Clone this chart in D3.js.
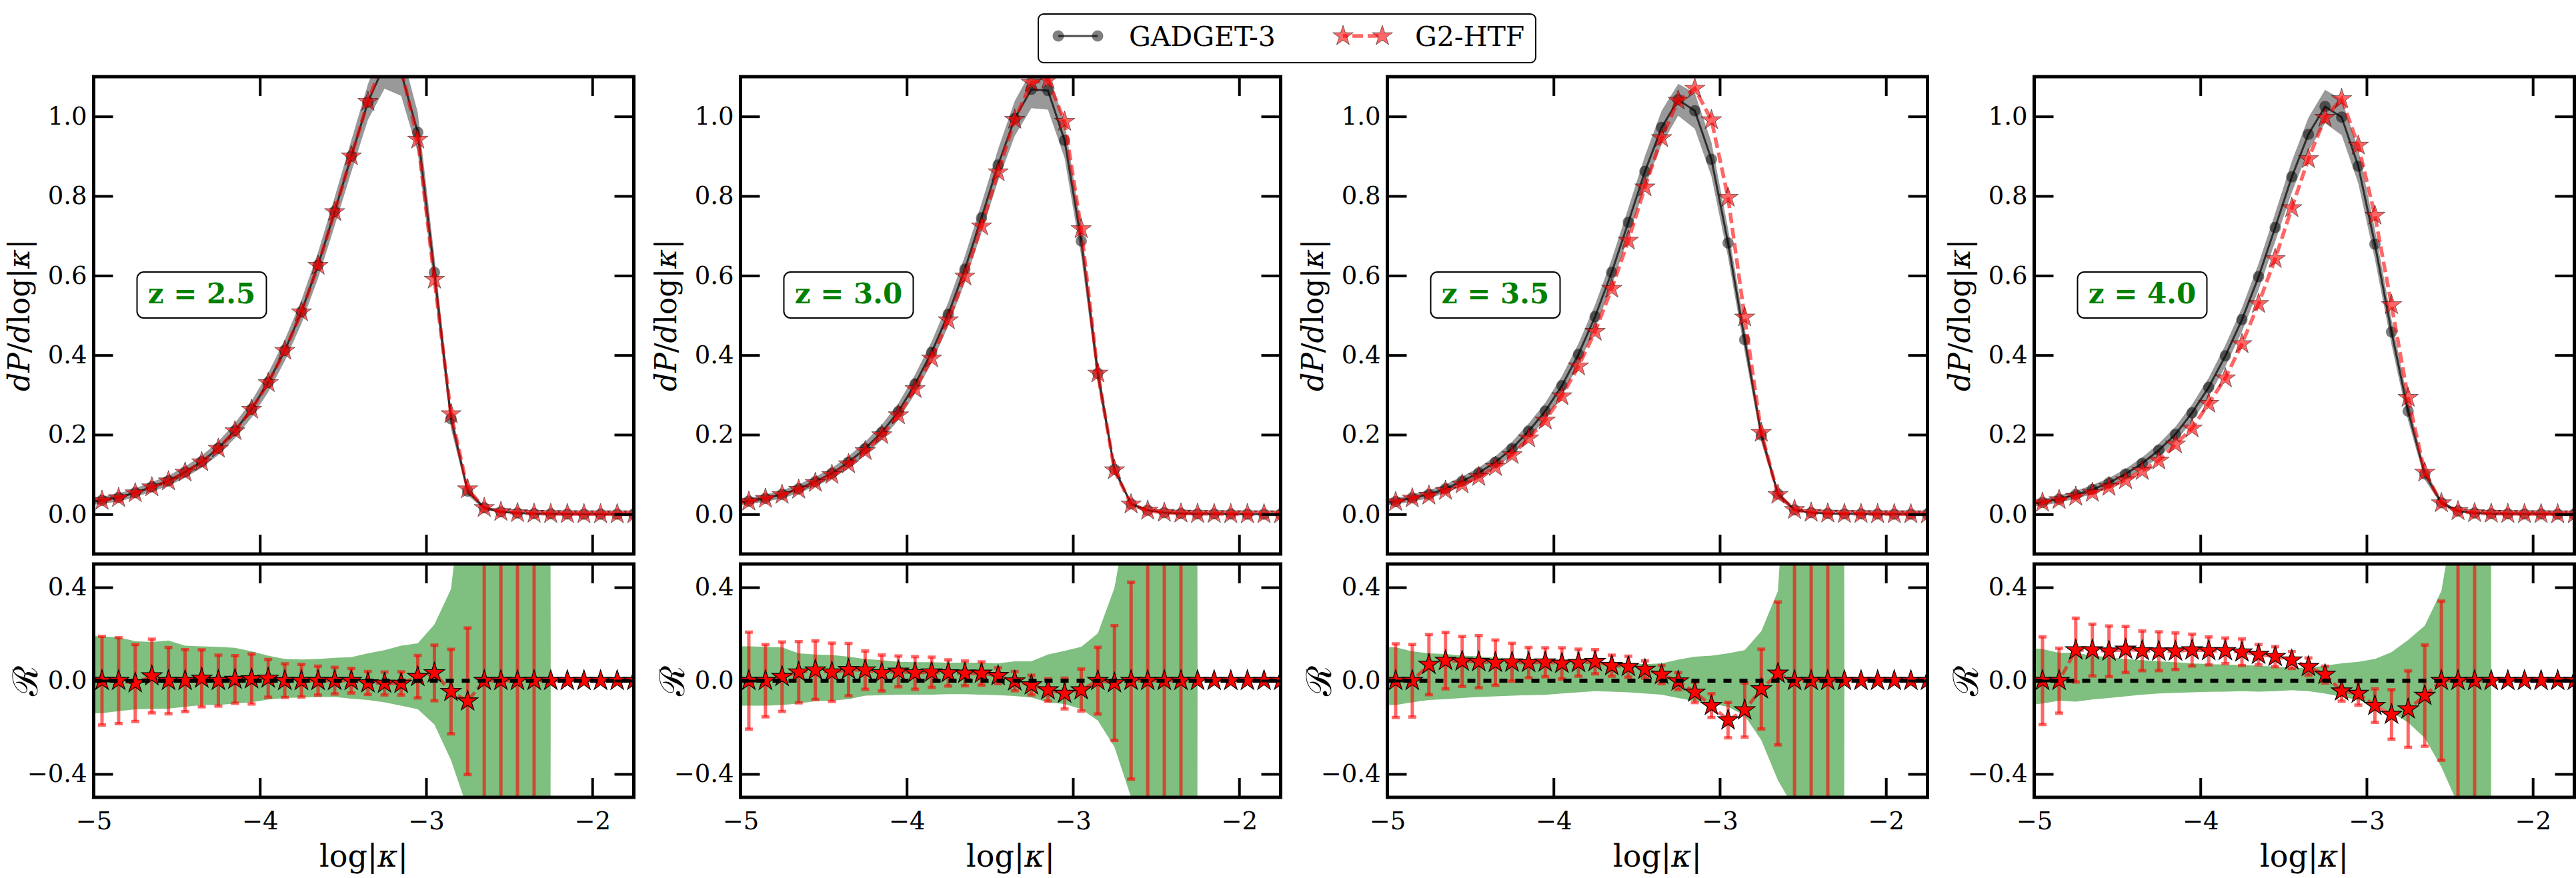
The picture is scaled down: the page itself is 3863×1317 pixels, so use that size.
<!DOCTYPE html>
<html>
<head>
<meta charset="utf-8">
<script src="https://cdn.jsdelivr.net/npm/d3@7"></script>
<style>
body { margin: 0; background: #fff; }
svg { display: block; font-family: "DejaVu Serif", serif; }
</style>
</head>
<body>
<script>
// bin centres, log|kappa|
var logK = [-5.05, -4.95, -4.85, -4.75, -4.65, -4.55, -4.45, -4.35, -4.25, -4.15, -4.05,
    -3.95, -3.85, -3.75, -3.65, -3.55, -3.45, -3.35, -3.25, -3.15, -3.05,
    -2.95, -2.85, -2.75, -2.65, -2.55, -2.45, -2.35, -2.25, -2.15, -2.05,
    -1.95, -1.85, -1.75];

var redshifts = ["2.5", "3.0", "3.5", "4.0"];
var xTicks = [-5, -4, -3, -2];
var yTicksTop = [0, 0.2, 0.4, 0.6, 0.8, 1.0];
var yTicksBottom = [-0.4, 0, 0.4];

// z = 2.5
var gadgetZ25 = [0.030, 0.035, 0.042, 0.054, 0.069, 0.084, 0.106, 0.132, 0.166, 0.210, 0.264, 0.331, 0.412, 0.509, 0.626, 0.761, 0.900, 1.036, 1.13, 1.11, 0.960, 0.608, 0.240, 0.058, 0.016, 0.006, 0.003, 0.0015, 0.0008, 0.0005, 0.0003, 0.0002, 0.0001, 0.0001];
var htfZ25 = [0.029, 0.034, 0.041, 0.053, 0.068, 0.083, 0.105, 0.131, 0.165, 0.209, 0.263, 0.330, 0.411, 0.508, 0.625, 0.760, 0.900, 1.037, 1.15, 1.12, 0.942, 0.590, 0.252, 0.063, 0.016, 0.006, 0.003, 0.0015, 0.0008, 0.0005, 0.0003, 0.0002, 0.0001, 0.0001];
var spreadZ25 = [0.008, 0.009, 0.010, 0.011, 0.012, 0.013, 0.014, 0.015, 0.017, 0.019, 0.021, 0.024, 0.027, 0.030, 0.033, 0.036, 0.040, 0.045, 0.060, 0.058, 0.050, 0.040, 0.025, 0.010, 0.004, 0.002, 0.001, 0.001, 0.001, 0.001, 0.001, 0.001, 0.001, 0.001];
var ratioZ25 = [0, 0, 0, -0.01, 0.02, 0, 0, 0.01, 0, 0.005, 0.007, 0.01, 0, 0, 0, 0, 0, -0.01, -0.012, -0.012, 0.017, 0.033, -0.047, -0.088, 0, 0, 0, 0, 0, 0, 0, 0, 0, 0];
var ratioErrZ25 = [0.19, 0.19, 0.184, 0.165, 0.158, 0.142, 0.133, 0.122, 0.109, 0.102, 0.107, 0.081, 0.072, 0.07, 0.062, 0.057, 0.053, 0.049, 0.049, 0.05, 0.091, 0.119, 0.181, 0.314, 50, 50, 50, 50, 0, 0, 0, 0, 0, 0];
var bandHiZ25 = [0.193, 0.19, 0.186, 0.169, 0.166, 0.172, 0.15, 0.147, 0.145, 0.141, 0.126, 0.107, 0.093, 0.091, 0.093, 0.098, 0.101, 0.117, 0.131, 0.15, 0.16, 0.241, 0.393, 1.0, 50, 50, 50, 50, 0, 0, 0, 0, 0, 0];
var bandLoZ25 = [-0.141, -0.139, -0.131, -0.123, -0.121, -0.12, -0.112, -0.104, -0.104, -0.098, -0.093, -0.081, -0.074, -0.072, -0.07, -0.07, -0.077, -0.083, -0.093, -0.107, -0.122, -0.188, -0.341, -0.55, -50, -50, -50, -50, 0, 0, 0, 0, 0, 0];

// z = 3.0
var gadgetZ30 = [0.028, 0.033, 0.040, 0.050, 0.064, 0.082, 0.103, 0.131, 0.165, 0.206, 0.258, 0.327, 0.407, 0.503, 0.616, 0.745, 0.878, 0.995, 1.068, 1.065, 0.940, 0.687, 0.354, 0.113, 0.026, 0.010, 0.004, 0.002, 0.001, 0.0008, 0.0005, 0.0003, 0.0002, 0.0001];
var htfZ30 = [0.027, 0.032, 0.039, 0.049, 0.062, 0.079, 0.099, 0.126, 0.159, 0.199, 0.249, 0.315, 0.392, 0.488, 0.598, 0.724, 0.860, 0.992, 1.085, 1.092, 0.987, 0.717, 0.354, 0.111, 0.025, 0.009, 0.004, 0.002, 0.001, 0.0008, 0.0005, 0.0003, 0.0002, 0.0001];
var spreadZ30 = [0.007, 0.008, 0.009, 0.010, 0.011, 0.012, 0.013, 0.015, 0.017, 0.019, 0.021, 0.024, 0.027, 0.030, 0.033, 0.036, 0.040, 0.044, 0.047, 0.048, 0.045, 0.038, 0.026, 0.010, 0.004, 0.002, 0.001, 0.001, 0.001, 0.001, 0.001, 0.001, 0.001, 0.001];
var ratioZ30 = [0, 0, 0, 0.017, 0.036, 0.045, 0.036, 0.047, 0.045, 0.033, 0.04, 0.033, 0.036, 0.033, 0.031, 0.031, 0.021, -0.002, -0.019, -0.04, -0.055, -0.04, 0, -0.01, 0, 0, 0, 0, 0, 0, 0, 0, 0, 0];
var ratioErrZ30 = [0.208, 0.208, 0.155, 0.149, 0.131, 0.126, 0.125, 0.112, 0.082, 0.077, 0.066, 0.07, 0.065, 0.056, 0.053, 0.05, 0.034, 0.041, 0.042, 0.048, 0.066, 0.09, 0.143, 0.246, 0.422, 50, 50, 50, 0, 0, 0, 0, 0, 0];
var bandHiZ30 = [0.147, 0.147, 0.145, 0.143, 0.117, 0.112, 0.11, 0.103, 0.093, 0.088, 0.081, 0.079, 0.079, 0.077, 0.077, 0.077, 0.074, 0.083, 0.083, 0.112, 0.128, 0.145, 0.203, 0.398, 0.8, 50, 50, 50, 0, 0, 0, 0, 0, 0];
var bandLoZ30 = [-0.107, -0.107, -0.107, -0.104, -0.098, -0.088, -0.086, -0.079, -0.064, -0.062, -0.06, -0.06, -0.06, -0.058, -0.058, -0.06, -0.062, -0.066, -0.072, -0.093, -0.1, -0.122, -0.171, -0.284, -0.5, -50, -50, -50, 0, 0, 0, 0, 0, 0];

// z = 3.5
var gadgetZ35 = [0.027, 0.032, 0.041, 0.050, 0.064, 0.083, 0.104, 0.131, 0.165, 0.209, 0.259, 0.323, 0.402, 0.497, 0.608, 0.734, 0.862, 0.972, 1.042, 1.014, 0.892, 0.682, 0.439, 0.199, 0.051, 0.011, 0.004, 0.002, 0.001, 0.0008, 0.0005, 0.0003, 0.0002, 0.0001];
var htfZ35 = [0.026, 0.031, 0.040, 0.047, 0.059, 0.075, 0.094, 0.119, 0.149, 0.191, 0.236, 0.297, 0.372, 0.459, 0.567, 0.688, 0.822, 0.946, 1.040, 1.070, 0.991, 0.796, 0.495, 0.205, 0.049, 0.011, 0.004, 0.002, 0.001, 0.0008, 0.0005, 0.0003, 0.0002, 0.0001];
var spreadZ35 = [0.007, 0.008, 0.009, 0.010, 0.011, 0.012, 0.013, 0.015, 0.017, 0.019, 0.021, 0.024, 0.027, 0.030, 0.033, 0.036, 0.039, 0.042, 0.040, 0.045, 0.043, 0.036, 0.030, 0.018, 0.008, 0.003, 0.001, 0.001, 0.001, 0.001, 0.001, 0.001, 0.001, 0.001];
var ratioZ35 = [0, 0, 0, 0.069, 0.086, 0.083, 0.081, 0.077, 0.079, 0.077, 0.079, 0.074, 0.077, 0.081, 0.064, 0.06, 0.048, 0.026, -0.002, -0.05, -0.107, -0.169, -0.126, -0.036, 0.031, 0, 0, 0, 0, 0, 0, 0, 0, 0];
var ratioErrZ35 = [0.158, 0.158, 0.156, 0.129, 0.121, 0.107, 0.112, 0.097, 0.081, 0.065, 0.062, 0.067, 0.058, 0.052, 0.045, 0.045, 0.037, 0.039, 0.037, 0.044, 0.051, 0.076, 0.116, 0.171, 0.306, 50, 50, 50, 0, 0, 0, 0, 0, 0];
var bandHiZ35 = [0.145, 0.143, 0.126, 0.117, 0.114, 0.107, 0.104, 0.098, 0.095, 0.09, 0.086, 0.083, 0.083, 0.081, 0.077, 0.074, 0.071, 0.074, 0.09, 0.103, 0.107, 0.117, 0.131, 0.212, 0.384, 1.5, 50, 50, 0, 0, 0, 0, 0, 0];
var bandLoZ35 = [-0.104, -0.104, -0.093, -0.083, -0.079, -0.074, -0.07, -0.067, -0.064, -0.062, -0.061, -0.055, -0.05, -0.045, -0.047, -0.05, -0.055, -0.06, -0.074, -0.088, -0.098, -0.112, -0.15, -0.255, -0.427, -0.55, -50, -50, 0, 0, 0, 0, 0, 0];

// z = 4.0
var gadgetZ40 = [0.025, 0.030, 0.038, 0.049, 0.062, 0.079, 0.101, 0.128, 0.161, 0.201, 0.255, 0.319, 0.398, 0.489, 0.597, 0.721, 0.848, 0.955, 1.025, 0.998, 0.875, 0.679, 0.458, 0.259, 0.101, 0.029, 0.008, 0.003, 0.0015, 0.001, 0.0006, 0.0004, 0.0002, 0.0001];
var htfZ40 = [0.024, 0.029, 0.036, 0.044, 0.054, 0.069, 0.086, 0.109, 0.135, 0.176, 0.216, 0.278, 0.342, 0.428, 0.529, 0.642, 0.770, 0.893, 0.997, 1.044, 0.927, 0.751, 0.526, 0.293, 0.105, 0.028, 0.008, 0.003, 0.0015, 0.001, 0.0006, 0.0004, 0.0002, 0.0001];
var spreadZ40 = [0.007, 0.008, 0.009, 0.010, 0.011, 0.012, 0.013, 0.015, 0.017, 0.019, 0.021, 0.024, 0.027, 0.030, 0.033, 0.036, 0.039, 0.042, 0.042, 0.045, 0.043, 0.038, 0.032, 0.024, 0.014, 0.006, 0.002, 0.001, 0.001, 0.001, 0.001, 0.001, 0.001, 0.001];
var ratioZ40 = [0, 0, 0, 0.131, 0.131, 0.126, 0.134, 0.128, 0.126, 0.126, 0.131, 0.128, 0.128, 0.122, 0.112, 0.103, 0.088, 0.06, 0.026, -0.045, -0.055, -0.107, -0.145, -0.122, -0.064, 0, 0, 0, 0, 0, 0, 0, 0, 0];
var ratioErrZ40 = [0.188, 0.188, 0.139, 0.137, 0.111, 0.108, 0.099, 0.085, 0.083, 0.079, 0.068, 0.06, 0.055, 0.057, 0.044, 0.043, 0.036, 0.037, 0.036, 0.043, 0.05, 0.072, 0.106, 0.164, 0.217, 0.341, 50, 50, 0, 0, 0, 0, 0, 0];
var bandHiZ40 = [0.141, 0.136, 0.119, 0.119, 0.107, 0.101, 0.093, 0.088, 0.083, 0.079, 0.074, 0.071, 0.069, 0.067, 0.064, 0.06, 0.055, 0.055, 0.064, 0.074, 0.081, 0.093, 0.122, 0.174, 0.236, 0.384, 0.8, 50, 0, 0, 0, 0, 0, 0];
var bandLoZ40 = [-0.104, -0.098, -0.086, -0.09, -0.081, -0.074, -0.067, -0.06, -0.055, -0.052, -0.05, -0.048, -0.047, -0.045, -0.047, -0.045, -0.041, -0.045, -0.055, -0.069, -0.083, -0.102, -0.136, -0.179, -0.246, -0.37, -0.53, -50, 0, 0, 0, 0, 0, 0];

var panels = [
    {z: redshifts[0], g3: gadgetZ25, htf: htfZ25, spread: spreadZ25, ratio: ratioZ25, err: ratioErrZ25, hi: bandHiZ25, lo: bandLoZ25},
    {z: redshifts[1], g3: gadgetZ30, htf: htfZ30, spread: spreadZ30, ratio: ratioZ30, err: ratioErrZ30, hi: bandHiZ30, lo: bandLoZ30},
    {z: redshifts[2], g3: gadgetZ35, htf: htfZ35, spread: spreadZ35, ratio: ratioZ35, err: ratioErrZ35, hi: bandHiZ35, lo: bandLoZ35},
    {z: redshifts[3], g3: gadgetZ40, htf: htfZ40, spread: spreadZ40, ratio: ratioZ40, err: ratioErrZ40, hi: bandHiZ40, lo: bandLoZ40}
];

var width = 3863, height = 1317;
var svg = d3.select("body").append("svg")
    .attr("width", width)
    .attr("height", height);
var defs = svg.append("defs");

var star = d3.symbol().type(d3.symbolStar).size(290);
var fmt1 = d3.format(".1f");

// style ticks of an axis group
function styleAxis(g, fontSize) {
    g.select(".domain").remove();
    g.selectAll(".tick line").attr("stroke", "#000").attr("stroke-width", 4);
    g.selectAll(".tick text")
        .attr("fill", "#000")
        .style("font-family", "DejaVu Serif, serif")
        .style("font-size", fontSize + "px");
}

panels.forEach(function(p, i) {
    var x0 = 140.5 + i * 970, w = 810;
    var topY0 = 115, topY1 = 831, botY0 = 846, botY1 = 1196;

    var x = d3.scaleLinear().domain([-5, -1.75]).range([x0, x0 + w]);
    var yT = d3.scaleLinear().domain([-0.1, 1.1]).range([topY1, topY0]);
    var yB = d3.scaleLinear().domain([-0.5, 0.5]).range([botY1, botY0]);

    defs.append("clipPath").attr("id", "clipT" + i)
        .append("rect").attr("x", x0).attr("y", topY0).attr("width", w).attr("height", topY1 - topY0);
    defs.append("clipPath").attr("id", "clipB" + i)
        .append("rect").attr("x", x0).attr("y", botY0).attr("width", w).attr("height", botY1 - botY0);

    // ---- upper panel: distributions
    var gT = svg.append("g").attr("clip-path", "url(#clipT" + i + ")");

    var band = d3.area()
        .x(function(d, j) { return x(logK[j]); })
        .y0(function(d, j) { return yT(d - p.spread[j]); })
        .y1(function(d, j) { return yT(d + p.spread[j]); });
    gT.append("path").datum(p.g3)
        .attr("d", band)
        .attr("fill", "#000")
        .attr("fill-opacity", 0.4);

    var lineT = function(arr) {
        return d3.line().x(function(d, j) { return x(logK[j]); }).y(function(d) { return yT(d); })(arr);
    };
    gT.append("path")
        .attr("d", lineT(p.g3))
        .attr("fill", "none")
        .attr("stroke", "#000")
        .attr("stroke-opacity", 0.7)
        .attr("stroke-width", 3);
    gT.selectAll(".g3dot")
        .data(p.g3).enter()
        .append("circle")
        .attr("class", "g3dot")
        .attr("cx", function(d, j) { return x(logK[j]); })
        .attr("cy", function(d) { return yT(d); })
        .attr("r", 8.5)
        .attr("fill", "#000")
        .attr("fill-opacity", 0.5);

    gT.append("path")
        .attr("d", lineT(p.htf))
        .attr("fill", "none")
        .attr("stroke", "#ff0000")
        .attr("stroke-opacity", 0.6)
        .attr("stroke-width", 5.5)
        .attr("stroke-dasharray", "16,7");
    gT.selectAll(".htfstar")
        .data(p.htf).enter()
        .append("path")
        .attr("class", "htfstar")
        .attr("d", star)
        .attr("transform", function(d, j) { return "translate(" + x(logK[j]) + "," + yT(d) + ")"; })
        .attr("fill", "#ff0000")
        .attr("fill-opacity", 0.6)
        .attr("stroke", "#000")
        .attr("stroke-opacity", 0.5)
        .attr("stroke-width", 1);

    // ---- lower panel: ratio
    var gB = svg.append("g").attr("clip-path", "url(#clipB" + i + ")");

    var greenBand = d3.area()
        .x(function(d, j) { return x(logK[j]); })
        .y0(function(d, j) { return yB(p.lo[j]); })
        .y1(function(d, j) { return yB(p.hi[j]); });
    gB.append("path").datum(p.hi)
        .attr("d", greenBand)
        .attr("fill", "green")
        .attr("fill-opacity", 0.5);

    var errs = gB.selectAll(".err")
        .data(p.ratio.map(function(r, j) { return {x: logK[j], r: r, e: p.err[j]}; })
            .filter(function(d) { return d.e > 0; }))
        .enter().append("g")
        .attr("class", "err")
        .attr("stroke", "#ff0000")
        .attr("stroke-opacity", 0.6)
        .attr("stroke-width", 5);
    errs.append("line")
        .attr("x1", function(d) { return x(d.x); })
        .attr("x2", function(d) { return x(d.x); })
        .attr("y1", function(d) { return yB(d.r - d.e); })
        .attr("y2", function(d) { return yB(d.r + d.e); });
    [-1, 1].forEach(function(s) {
        errs.append("line")
            .attr("x1", function(d) { return x(d.x) - 6; })
            .attr("x2", function(d) { return x(d.x) + 6; })
            .attr("y1", function(d) { return yB(d.r + s * d.e); })
            .attr("y2", function(d) { return yB(d.r + s * d.e); });
    });

    gB.append("path")
        .attr("d", d3.line().x(function(d, j) { return x(logK[j]); }).y(function(d) { return yB(d); })(p.ratio))
        .attr("fill", "none")
        .attr("stroke", "#ff0000")
        .attr("stroke-opacity", 0.6)
        .attr("stroke-width", 5)
        .attr("stroke-dasharray", "14,6");
    gB.selectAll(".rstar")
        .data(p.ratio).enter()
        .append("path")
        .attr("class", "rstar")
        .attr("d", star)
        .attr("transform", function(d, j) { return "translate(" + x(logK[j]) + "," + yB(d) + ")"; })
        .attr("fill", "#ff0000")
        .attr("stroke", "#000")
        .attr("stroke-width", 1.2);

    gB.append("line")
        .attr("x1", x0).attr("x2", x0 + w)
        .attr("y1", yB(0)).attr("y2", yB(0))
        .attr("stroke", "#000")
        .attr("stroke-width", 6)
        .attr("stroke-dasharray", "12,12");

    // ---- ticks and spines
    styleAxis(svg.append("g").attr("transform", "translate(" + x0 + ",0)")
        .call(d3.axisLeft(yT).tickValues(yTicksTop).tickSize(-29).tickPadding(10).tickFormat(fmt1)), 37);
    styleAxis(svg.append("g").attr("transform", "translate(" + (x0 + w) + ",0)")
        .call(d3.axisRight(yT).tickValues(yTicksTop).tickSize(-29).tickFormat("")), 37);
    styleAxis(svg.append("g").attr("transform", "translate(0," + topY0 + ")")
        .call(d3.axisTop(x).tickValues(xTicks).tickSize(-29).tickFormat("")), 37);
    styleAxis(svg.append("g").attr("transform", "translate(0," + topY1 + ")")
        .call(d3.axisBottom(x).tickValues(xTicks).tickSize(-29).tickFormat("")), 37);

    styleAxis(svg.append("g").attr("transform", "translate(" + x0 + ",0)")
        .call(d3.axisLeft(yB).tickValues(yTicksBottom).tickSize(-29).tickPadding(10).tickFormat(fmt1)), 37);
    styleAxis(svg.append("g").attr("transform", "translate(" + (x0 + w) + ",0)")
        .call(d3.axisRight(yB).tickValues(yTicksBottom).tickSize(-29).tickFormat("")), 37);
    styleAxis(svg.append("g").attr("transform", "translate(0," + botY0 + ")")
        .call(d3.axisTop(x).tickValues(xTicks).tickSize(-29).tickFormat("")), 37);
    styleAxis(svg.append("g").attr("transform", "translate(0," + botY1 + ")")
        .call(d3.axisBottom(x).tickValues(xTicks).tickSize(-29).tickPadding(22).tickFormat(d3.format("d"))), 37);

    svg.append("rect")
        .attr("x", x0).attr("y", topY0).attr("width", w).attr("height", topY1 - topY0)
        .attr("fill", "none").attr("stroke", "#000").attr("stroke-width", 5);
    svg.append("rect")
        .attr("x", x0).attr("y", botY0).attr("width", w).attr("height", botY1 - botY0)
        .attr("fill", "none").attr("stroke", "#000").attr("stroke-width", 5);

    // redshift box
    svg.append("rect")
        .attr("x", x0 + 65).attr("y", 408).attr("width", 194).attr("height", 69).attr("rx", 10)
        .attr("fill", "#fff").attr("stroke", "#000").attr("stroke-width", 2);
    svg.append("text")
        .attr("x", x0 + 162).attr("y", 455)
        .attr("text-anchor", "middle")
        .attr("fill", "#008000")
        .style("font-weight", "bold")
        .style("font-size", "42px")
        .text("z = " + p.z);

    // axis labels
    var yl = svg.append("text")
        .attr("transform", "translate(" + (x0 - 97) + "," + ((topY0 + topY1) / 2) + ") rotate(-90)")
        .attr("text-anchor", "middle")
        .style("font-size", "44px");
    yl.append("tspan").style("font-style", "italic").text("dP");
    yl.append("tspan").text("/");
    yl.append("tspan").style("font-style", "italic").text("d");
    yl.append("tspan").text("log|");
    yl.append("tspan").style("font-style", "italic").text("κ");
    yl.append("tspan").text("|");

    svg.append("text")
        .attr("transform", "translate(" + (x0 - 85) + "," + ((botY0 + botY1) / 2) + ") rotate(-90)")
        .attr("text-anchor", "middle")
        .style("font-size", "52px")
        .text("ℛ");

    var xl = svg.append("text")
        .attr("x", x0 + w / 2).attr("y", 1300)
        .attr("text-anchor", "middle")
        .style("font-size", "46px");
    xl.append("tspan").text("log|");
    xl.append("tspan").style("font-style", "italic").text("κ");
    xl.append("tspan").text("|");
});

// legend
var leg = svg.append("g");
leg.append("rect")
    .attr("x", 1557).attr("y", 21).attr("width", 746).attr("height", 73).attr("rx", 8)
    .attr("fill", "#fff").attr("stroke", "#000").attr("stroke-width", 2);
leg.append("line")
    .attr("x1", 1587).attr("x2", 1646).attr("y1", 54).attr("y2", 54)
    .attr("stroke", "#000").attr("stroke-opacity", 0.7).attr("stroke-width", 3);
[1587, 1646].forEach(function(cx) {
    leg.append("circle").attr("cx", cx).attr("cy", 54).attr("r", 8.5)
        .attr("fill", "#000").attr("fill-opacity", 0.5);
});
leg.append("text").attr("x", 1693).attr("y", 69).style("font-size", "41px").text("GADGET-3");
leg.append("line")
    .attr("x1", 2014).attr("x2", 2073).attr("y1", 54).attr("y2", 54)
    .attr("stroke", "#ff0000").attr("stroke-opacity", 0.6).attr("stroke-width", 5.5)
    .attr("stroke-dasharray", "16,7").attr("stroke-dashoffset", -14);
[2014, 2073].forEach(function(cx) {
    leg.append("path").attr("d", star)
        .attr("transform", "translate(" + cx + ",54)")
        .attr("fill", "#ff0000").attr("fill-opacity", 0.6)
        .attr("stroke", "#000").attr("stroke-opacity", 0.5).attr("stroke-width", 1);
});
leg.append("text").attr("x", 2122).attr("y", 69).style("font-size", "41px").text("G2-HTF");
</script>
</body>
</html>
